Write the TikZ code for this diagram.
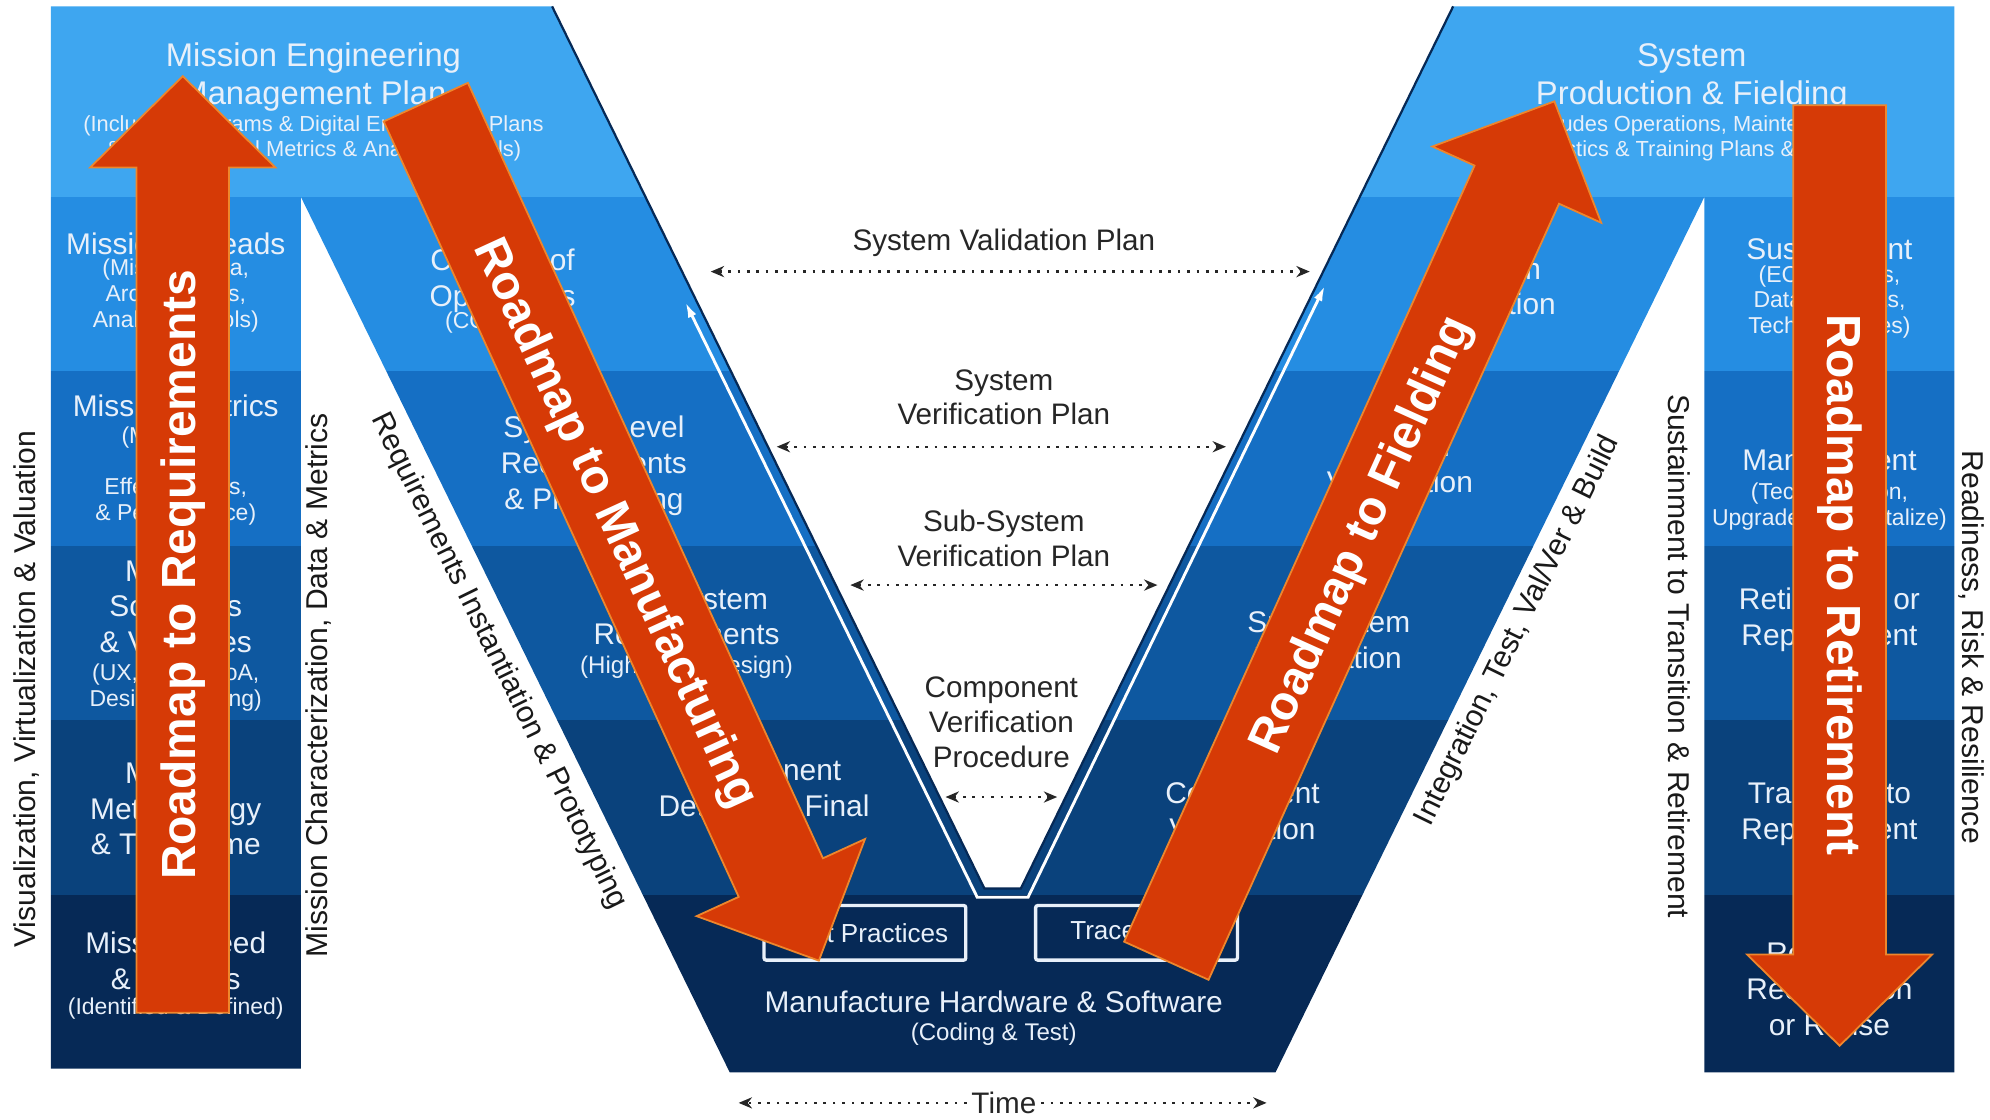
\documentclass[tikz,border=0pt]{standalone}
\usepackage{fontspec}
\setmainfont{Liberation Sans}
\usetikzlibrary{arrows.meta}

\definecolor{bandA}{RGB}{62,166,240}
\definecolor{bandB}{RGB}{37,141,226}
\definecolor{bandC}{RGB}{21,111,196}
\definecolor{bandD}{RGB}{14,88,160}
\definecolor{bandE}{RGB}{10,66,124}
\definecolor{bandF}{RGB}{6,41,86}
\definecolor{paneltext}{RGB}{232,240,250}
\definecolor{roadfill}{RGB}{214,58,6}
\definecolor{roadedge}{RGB}{238,134,44}

\tikzset{
  pics/roadmap/.style={code={
    \filldraw[fill=roadfill, draw=roadedge, line width=0.8pt]
      (0,36.5) -- ({#1-72},36.5) -- ({#1-72},73) -- (#1,0) -- ({#1-72},-73) -- ({#1-72},-36.5) -- (0,-36.5) -- cycle;
  }}
}

\begin{document}
\begin{tikzpicture}[x=0.02cm, y=-0.02cm,
  toptitle/.style={text=paneltext, align=center, font=\fontsize{14.7}{17}\selectfont, inner sep=0pt},
  rowtitle/.style={text=paneltext, align=center, font=\fontsize{13.4}{16}\selectfont, inner sep=0pt},
  rowsub/.style={text=paneltext, align=center, font=\fontsize{10.3}{11.6}\selectfont, inner sep=0pt},
  pbox/.style={draw=paneltext, line width=1.5pt, text=paneltext, font=\fontsize{11.7}{14}\selectfont,
    minimum width=90.5pt, minimum height=24.5pt, inner sep=0pt, rounded corners=1pt},
  planlabel/.style={text=black!85, align=center, font=\fontsize{13.3}{15.6}\selectfont, inner sep=0pt},
  planline/.style={draw=black!85, line width=1pt, dash pattern=on 1.2pt off 3pt,
    {Stealth[length=6pt,width=5pt]}-{Stealth[length=6pt,width=5pt]}},
  timeline/.style={draw=black!85, line width=1pt, dash pattern=on 1.2pt off 3pt, -{Stealth[length=6pt,width=5pt]}},
  sidelabel/.style={text=black!90, font=\fontsize{13.5}{16}\selectfont, inner sep=0pt},
  whiteline/.style={draw=white, line width=1.3pt, {Latex[length=7pt,width=4pt]}-{Latex[length=7pt,width=4pt]}},
  roadtext/.style={text=white, font=\bfseries\fontsize{21.5}{24}\selectfont, inner sep=0pt}
]
\useasboundingbox (0,0) rectangle (1568,882);

% coloured bands of the W shape
\begin{scope}
  \clip (40,5) -- (435,5) -- (775.6,700) -- (804.4,700) -- (1145,5) -- (1540,5) -- (1540,845)
    -- (1343,845) -- (1343,155) -- (1005,845) -- (575,845) -- (237,155) -- (237,842) -- (40,842) -- cycle;
  \fill[bandA] (0,0) rectangle (1568,155);
  \fill[bandB] (0,155) rectangle (1568,292);
  \fill[bandC] (0,292) rectangle (1568,430);
  \fill[bandD] (0,430) rectangle (1568,567);
  \fill[bandE] (0,567) rectangle (1568,705);
  \fill[bandF] (0,705) rectangle (1568,850);
\end{scope}
\draw[bandF, line width=1pt] (435,5) -- (775.6,700) -- (804.4,700) -- (1145,5);

% white line inside the V
\coordinate (wl1) at (540,238);
\coordinate (wl2) at (770,707);
\coordinate (wl3) at (810,707);
\coordinate (wl4) at (1044,225);
\draw[whiteline] (wl1) -- (wl2) -- (wl3) -- (wl4);

% top band
\node[toptitle] (metitle) at (247,61) {Mission Engineering\\Management Plan};
\node[rowsub, font=\fontsize{9.8}{11.4}\selectfont] (mesub) at (247,109) {(Includes Programs \& Digital Engineering Plans\\\& Mission-Level Metrics \& Analytical Tools)};
\node[toptitle] (sptitle) at (1333,61) {System\\Production \& Fielding};
\node[rowsub, font=\fontsize{9.8}{11.4}\selectfont] (spsub) at (1333,109) {(Includes Operations, Maintenance,\\Logistics \& Training Plans \& Tools)};

% left column
\node[rowtitle] (thrt) at (138.5,192) {Mission Threads};
\node[rowsub] (thrs) at (138.5,233) {(Mission Data,\\Architectures,\\Analytical Tools)};
\node[rowtitle] (mett) at (138.5,320) {Mission Metrics};
\node[rowsub] (mets) at (138.5,375) {(Measures\\of\\Effectiveness,\\\& Performance)};
\node[rowtitle] (scnt) at (138.5,480) {Mission\\Scenarios\\\& Vignettes};
\node[rowsub] (scns) at (138.5,542) {(UX, OV-1, AoA,\\Design Thinking)};
\node[rowtitle] (mtht) at (138.5,637) {Mission\\Methodology\\\& Timeframe};
\node[rowtitle] (gapt) at (138.5,757) {Mission Need\\\& Bounds};
\node[rowsub] (gaps) at (138.5,795) {(Identified \& Defined)};

% right column
\node[rowtitle] (sust) at (1441.5,196) {Sustainment};
\node[rowsub] (suss) at (1441.5,238) {(ECPs, Mods,\\Data Products,\\Tech Upgrades)};
\node[rowtitle] (mgtt) at (1441.5,365) {Management};
\node[rowsub] (mgts) at (1441.5,399) {(Tech Insertion,\\Upgrades \& Revitalize)};
\node[rowtitle] (rett) at (1441.5,500) {Retirement or\\Replacement\\Plan};
\node[rowtitle] (trnt) at (1441.5,641) {Transition to\\Replacement};
\node[rowtitle] (rclt) at (1441.5,779) {Removal,\\Reclamation\\or Reuse};

% left arm of the V
\node[rowtitle] (cont) at (396,221) {Concept of\\Operations};
\node[rowsub] (cons) at (396,254) {(CONOPS)};
\node[rowtitle] (slrt) at (468,367) {System-Level\\Requirements\\\& Prototyping};
\node[rowtitle] (ssrt) at (541,488) {Sub-System\\Requirements};
\node[rowsub, font=\fontsize{10.8}{13}\selectfont] (ssrs) at (541,526) {(High-Level Design)};
\node[rowtitle] (cdft) at (602,621) {Component\\Detailed \& Final};

% right arm of the V
\node[rowtitle] (svalt) at (1175,226) {System\\Validation};
\node[rowtitle] (svert) at (1103,366) {System\\Verification};
\node[rowtitle] (ssvt) at (1047,504) {Sub-System\\Verification};
\node[rowtitle] (cvert) at (979,639) {Component\\Verification};

% bottom of the V
\node[pbox] (bestp) at (681.5,735) {Best Practices};
\node[pbox] (trace) at (895.5,735) {Traceability};
\node[rowtitle] (mfgt) at (783,789) {Manufacture Hardware \& Software};
\node[rowsub, font=\fontsize{10.8}{13}\selectfont] (mfgs) at (783,815) {(Coding \& Test)};

% plans across the V
\node[planlabel] (valtxt) at (791,191) {System Validation Plan};
\node[planlabel] (vertxt) at (791,313) {System\\Verification Plan};
\node[planlabel] (subtxt) at (791,424) {Sub-System\\Verification Plan};
\node[planlabel] (cmptxt) at (789,569) {Component\\Verification\\Procedure};
\coordinate (valL) at (560,214); \coordinate (valR) at (1032,214);
\coordinate (verL) at (612,352); \coordinate (verR) at (966,352);
\coordinate (subL) at (670,461); \coordinate (subR) at (912,461);
\coordinate (cmpL) at (745,628); \coordinate (cmpR) at (833,628);
\draw[planline] (valL) -- (valR);
\draw[planline] (verL) -- (verR);
\draw[planline] (subL) -- (subR);
\draw[planline] (cmpL) -- (cmpR);

\node[planlabel, inner sep=2pt] (time) at (791,869) {Time};
\coordinate (timeL) at (582,869); \coordinate (timeR) at (998,869);
\draw[timeline] (time) -- (timeL);
\draw[timeline] (time) -- (timeR);

% side labels
\node[sidelabel, rotate=90] (vvv) at (21,543) {Visualization, Virtualization \& Valuation};
\node[sidelabel, rotate=90] (mcdm) at (251,540) {Mission Characterization, Data \& Metrics};
\node[sidelabel, rotate=-63.9] (rip) at (393,521) {Requirements Instantiation \& Prototyping};
\node[sidelabel, rotate=63.9] (itvb) at (1196,497) {Integration, Test, Val/Ver \& Build};
\node[sidelabel, rotate=-90] (stre) at (1323,517) {Sustainment to Transition \& Retirement};
\node[sidelabel, rotate=-90] (rrr) at (1553,510) {Readiness, Risk \& Resilience};

% roadmap arrows
\pic[rotate=90] (reqarrow) at (144,798) {roadmap=738};
\pic[rotate=-65.4] (mfgarrow) at (335.5,80.5) {roadmap=744};
\pic[rotate=65.7] (fldarrow) at (919,757) {roadmap=743};
\pic[rotate=-90] (retarrow) at (1449.5,83) {roadmap=741};
\node[roadtext, rotate=90] (reqtxt) at (144,453) {Roadmap to Requirements};
\node[roadtext, rotate=-65.4] (mfgtxt) at (484,413) {Roadmap to Manufacturing};
\node[roadtext, rotate=65.7] (fldtxt) at (1074,422) {Roadmap to Fielding};
\node[roadtext, rotate=-90] (rettxt) at (1449.5,461) {Roadmap to Retirement};
\end{tikzpicture}
\end{document}
